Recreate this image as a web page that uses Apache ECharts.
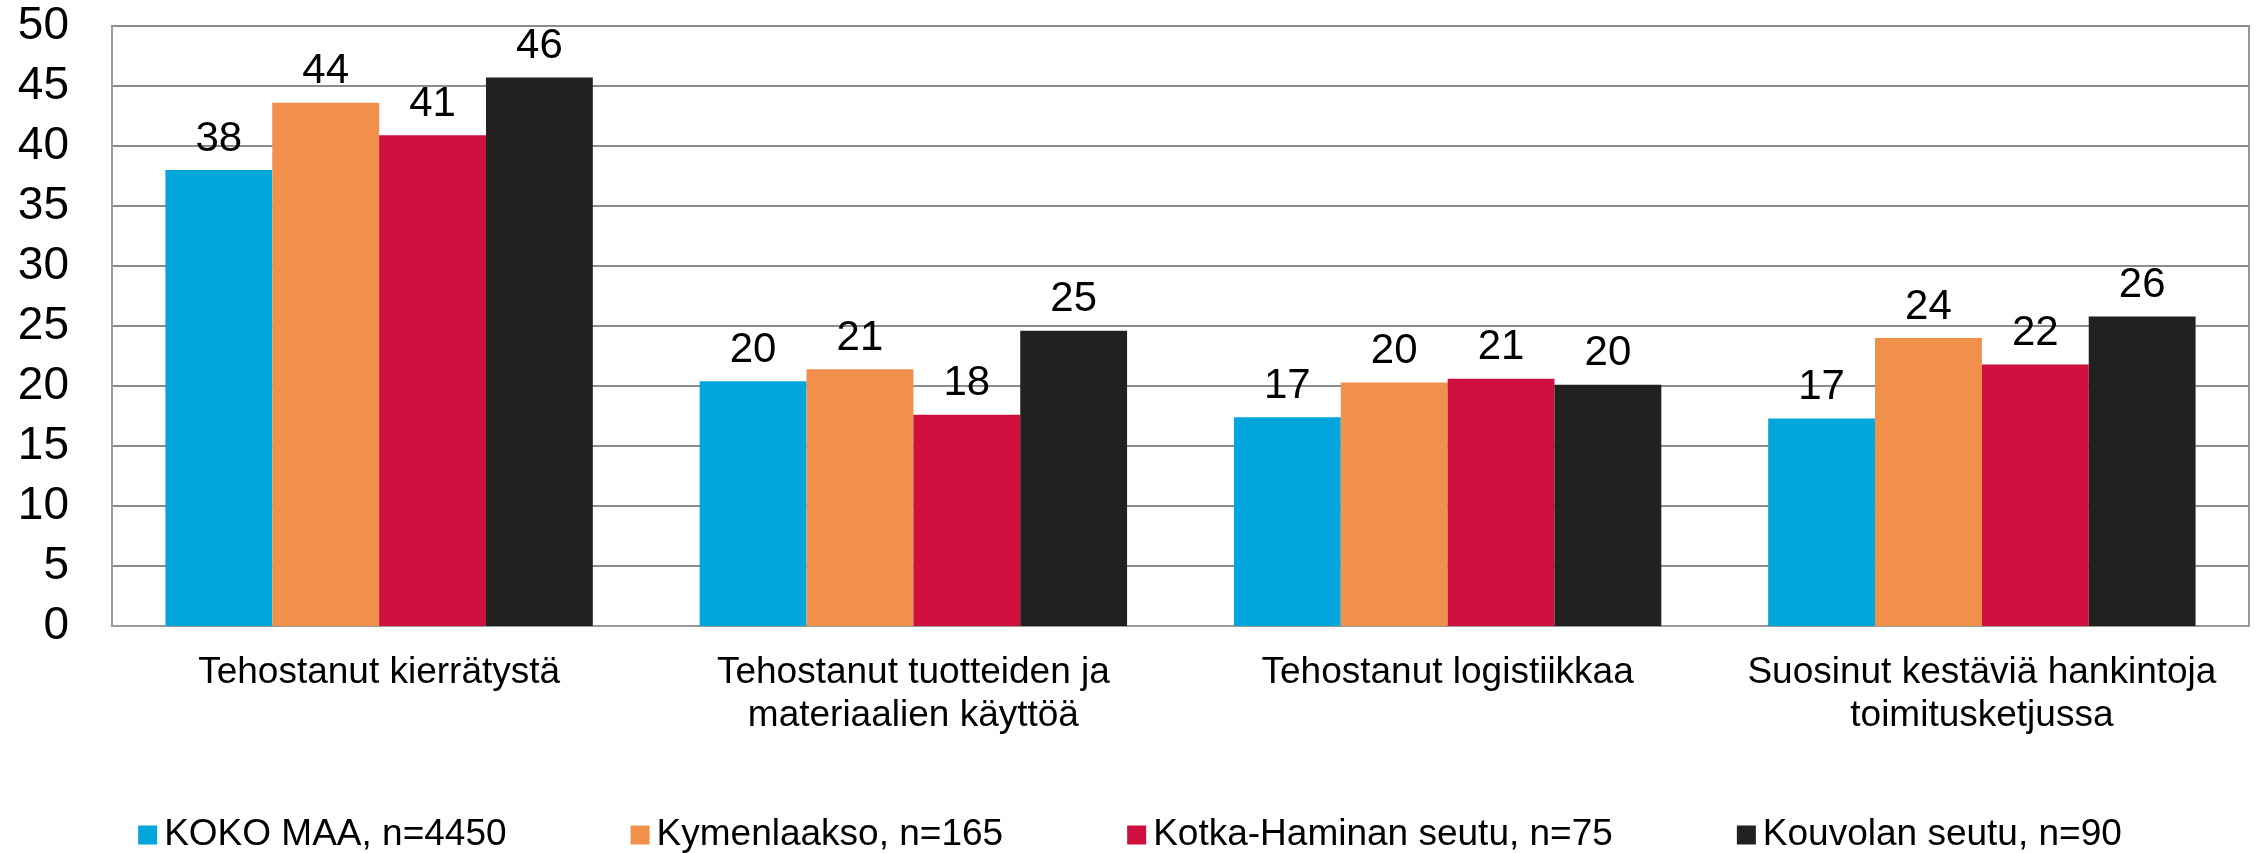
<!DOCTYPE html>
<html>
<head>
<meta charset="utf-8">
<script src="https://cdn.jsdelivr.net/npm/echarts@6/dist/echarts.min.js"></script>
<style>
html,body{margin:0;padding:0;background:#fff;}
#chart{width:2260px;height:853px;}
</style>
</head>
<body>
<div id="chart"></div>
<script>
const categories = [
  "Tehostanut kierrätystä",
  "Tehostanut tuotteiden ja\nmateriaalien käyttöä",
  "Tehostanut logistiikkaa",
  "Suosinut kestäviä hankintoja\ntoimitusketjussa"
];
const seriesNames = [
  "KOKO MAA, n=4450",
  "Kymenlaakso, n=165",
  "Kotka-Haminan seutu, n=75",
  "Kouvolan seutu, n=90"
];
const kokoMaa     = [38.0, 20.4, 17.4, 17.3];
const kymenlaakso = [43.6, 21.4, 20.3, 24.0];
const kotkaHamina = [40.9, 17.6, 20.6, 21.8];
const kouvola     = [45.7, 24.6, 20.1, 25.8];
const colors = ["#02A6DA", "#F0904B", "#CF103F", "#232120"];
const yTicks = { min: 0, max: 50, interval: 5 };

const FONT = "'Liberation Sans', Arial, sans-serif";
const seriesData = [kokoMaa, kymenlaakso, kotkaHamina, kouvola];

const chart = echarts.init(document.getElementById('chart'), null, {renderer: 'canvas'});
chart.setOption({
  animation: false,
  backgroundColor: '#ffffff',
  color: colors,
  textStyle: { fontFamily: FONT },
  grid: {
    left: 112, right: 11, top: 26, bottom: 227,
    show: true, borderColor: '#999999', borderWidth: 2, backgroundColor: 'transparent'
  },
  legend: {
    data: seriesNames,
    left: 'center',
    top: 811,
    icon: 'rect',
    itemWidth: 19,
    itemHeight: 19,
    itemGap: 124,
    textStyle: { fontFamily: FONT, fontSize: 37, color: '#000', lineHeight: 38, padding: [0,0,0,2] }
  },
  xAxis: {
    type: 'category',
    data: categories,
    axisLine: { show: true, lineStyle: { color: '#999999', width: 2 } },
    axisTick: { show: false },
    axisLabel: {
      fontFamily: FONT, fontSize: 37, color: '#000', lineHeight: 43,
      margin: 25, interval: 0, align: 'center'
    },
    splitLine: { show: false }
  },
  yAxis: {
    type: 'value',
    min: yTicks.min, max: yTicks.max, interval: yTicks.interval,
    axisLine: { show: true, lineStyle: { color: '#999999', width: 2 } },
    axisTick: { show: false },
    axisLabel: { fontFamily: FONT, fontSize: 46, color: '#000', margin: 43, padding: [14,0,0,0] },
    splitLine: { show: true, lineStyle: { color: '#8c8c8c', width: 2 } }
  },
  series: seriesNames.map((name, i) => ({
    name: name,
    type: 'bar',
    data: seriesData[i],
    barGap: '0%',
    barCategoryGap: '20%',
    itemStyle: { color: colors[i] },
    label: {
      show: true, position: 'top', distance: 10,
      fontFamily: FONT, fontSize: 42, color: '#000',
      formatter: p => String(Math.round(p.value))
    }
  }))
});
</script>
</body>
</html>
